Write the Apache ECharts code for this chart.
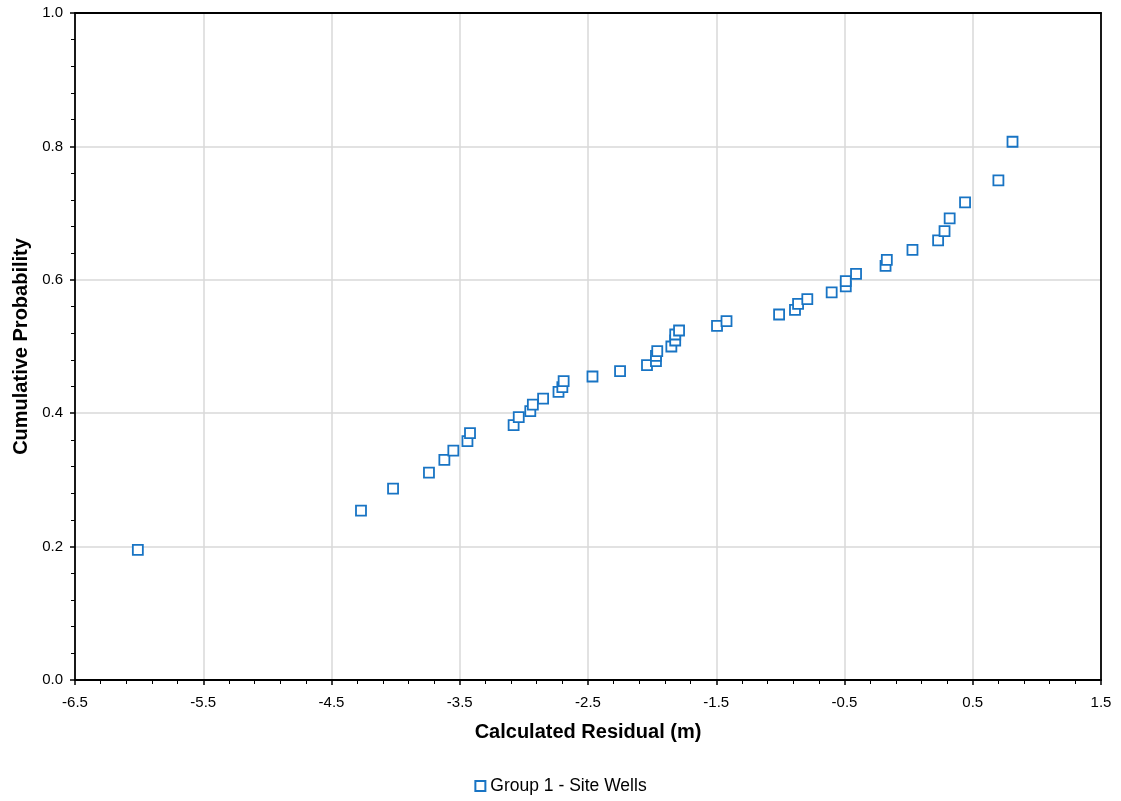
<!DOCTYPE html>
<html>
<head>
<meta charset="utf-8">
<script src="https://cdn.jsdelivr.net/npm/echarts@6/dist/echarts.min.js"></script>
<style>
html,body{margin:0;padding:0;background:#fff;}
#chart{width:1121px;height:801px;}
</style>
</head>
<body>
<div id="chart"></div>
<script>
const seriesName = 'Group 1 - Site Wells';
const residuals = [
  -6.01, -4.27, -4.02, -3.74, -3.62, -3.55, -3.44, -3.42,
  -3.08, -3.04, -2.95, -2.93, -2.85, -2.73, -2.70, -2.69,
  -2.465, -2.25, -2.04, -1.97, -1.97, -1.96, -1.85, -1.82,
  -1.82, -1.79, -1.494, -1.42, -1.01, -0.886, -0.862, -0.79,
  -0.60, -0.49, -0.49, -0.41, -0.18, -0.17, 0.03, 0.23,
  0.28, 0.32, 0.44, 0.70, 0.81
];
const probabilities = [
  0.195, 0.254, 0.287, 0.311, 0.330, 0.344, 0.358, 0.370,
  0.382, 0.394, 0.403, 0.413, 0.422, 0.432, 0.439, 0.448,
  0.455, 0.463, 0.472, 0.478, 0.486, 0.493, 0.500, 0.509,
  0.518, 0.524, 0.531, 0.538, 0.548, 0.555, 0.564, 0.571,
  0.581, 0.590, 0.598, 0.609, 0.621, 0.630, 0.645, 0.659,
  0.673, 0.692, 0.716, 0.749, 0.807
];
const xTicks = [-6.5, -5.5, -4.5, -3.5, -2.5, -1.5, -0.5, 0.5, 1.5];
const yTicks = [0.0, 0.2, 0.4, 0.6, 0.8, 1.0];

const points = residuals.map((r, i) => [r, probabilities[i]]);
const chart = echarts.init(document.getElementById('chart'));
const fontFamily = '"Liberation Sans", Arial, sans-serif';
const xMin = xTicks[0], xMax = xTicks[xTicks.length - 1];
const yMin = yTicks[0], yMax = yTicks[yTicks.length - 1];
const borderAxis = {
  type: 'value',
  axisLine: {show: true, onZero: false, lineStyle: {color: '#000', width: 1.8}},
  axisTick: {show: false}, axisLabel: {show: false}, splitLine: {show: false}
};
chart.setOption({
  animation: false,
  backgroundColor: '#fff',
  textStyle: {fontFamily: fontFamily},
  grid: {left: 75, right: 20, top: 13, bottom: 121},
  legend: {
    bottom: 1, left: 'center',
    itemWidth: 10, itemHeight: 10, itemGap: 4,
    textStyle: {fontSize: 17.5, color: '#000', fontFamily: fontFamily},
    data: [{name: seriesName, icon: 'rect'}]
  },
  xAxis: [{
    type: 'value',
    min: xMin, max: xMax, interval: 1,
    name: 'Calculated Residual (m)', nameLocation: 'middle', nameGap: 42,
    nameTextStyle: {fontSize: 20, fontWeight: 'bold', color: '#000'},
    axisLine: {onZero: false, lineStyle: {color: '#000', width: 1.8}},
    axisTick: {show: true, length: 5, lineStyle: {color: '#000', width: 1.5}},
    minorTick: {show: true, splitNumber: 5, length: 4, lineStyle: {color: '#000', width: 1}},
    axisLabel: {fontSize: 15, color: '#000', margin: 15, formatter: v => v.toFixed(1)},
    splitLine: {show: true, showMinLine: false, showMaxLine: false, lineStyle: {color: '#d9d9d9', width: 1.5}}
  }, Object.assign({position: 'top', min: xMin, max: xMax}, borderAxis)],
  yAxis: [{
    type: 'value',
    min: yMin, max: yMax, interval: 0.2,
    name: 'Cumulative Probability', nameLocation: 'middle', nameGap: 44,
    nameTextStyle: {fontSize: 20, fontWeight: 'bold', color: '#000'},
    axisLine: {onZero: false, lineStyle: {color: '#000', width: 1.8}},
    axisTick: {show: true, length: 5, lineStyle: {color: '#000', width: 1.5}},
    minorTick: {show: true, splitNumber: 5, length: 4, lineStyle: {color: '#000', width: 1}},
    axisLabel: {fontSize: 15, color: '#000', margin: 12, formatter: v => v.toFixed(1)},
    splitLine: {show: true, showMinLine: false, showMaxLine: false, lineStyle: {color: '#d9d9d9', width: 1.5}}
  }, Object.assign({position: 'right', min: yMin, max: yMax}, borderAxis)],
  series: [{
    name: seriesName,
    type: 'scatter',
    symbol: 'rect',
    symbolSize: 10,
    data: points,
    itemStyle: {color: '#ffffff', opacity: 1, borderColor: '#1874c4', borderWidth: 1.8}
  }]
});
</script>
</body>
</html>
